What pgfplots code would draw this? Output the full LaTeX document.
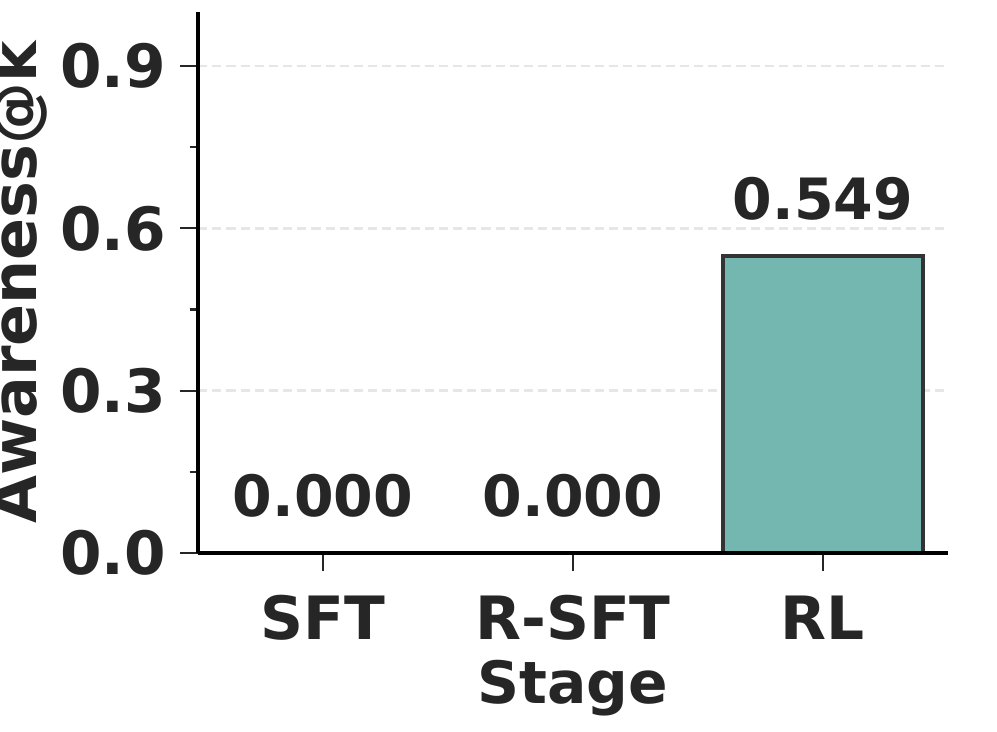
\documentclass[border=0pt]{standalone}
\usepackage{fontspec}
\setmainfont{DejaVu Sans}
\usepackage{pgfplots}
\pgfplotsset{compat=1.18}

\definecolor{barfill}{HTML}{74B6B0}
\definecolor{baredge}{HTML}{333333}
\definecolor{txt}{HTML}{262626}
\definecolor{gridc}{HTML}{E6E6E6}

\begin{document}
\begin{tikzpicture}
\begin{axis}[
    scale only axis,
    width=270pt, height=194.8pt,
    xmin=-0.5, xmax=2.5,
    ymin=0, ymax=1.0,
    set layers,
    axis on top,
    axis lines=left,
    axis line style={black, line width=1.4pt, -},
    clip=false,
    xtick={0,1,2},
    xticklabels={SFT, R-SFT, RL},
    ytick={0,0.3,0.6,0.9},
    minor ytick={0.15,0.45,0.75},
    yticklabel style={/pgf/number format/fixed, /pgf/number format/precision=1, /pgf/number format/fixed zerofill},
    /pgf/number format/assume math mode=true,
    tick style={txt, line width=0.8pt},
    major tick length=6.5pt,
    minor tick length=3pt,
    tick align=outside,
    ticklabel style={font=\fontsize{21.5}{24}\selectfont\bfseries, text=txt},
    xticklabel style={anchor=base, yshift=-24.7pt},
    yticklabel style={anchor=east, xshift=-1.5pt},
    ymajorgrids=true,
    major grid style={gridc, line width=0.9pt, dash pattern=on 3.3pt off 1.8pt, /pgfplots/on layer=axis background},
    xlabel={Stage},
    ylabel={Awareness@k},
    label style={font=\fontsize{21}{24}\selectfont\bfseries, text=txt},
    xlabel style={at={(axis description cs:0.5,-0.2773)}, anchor=base},
    ylabel style={at={(axis description cs:-0.2147,0.5)}, anchor=base, font=\fontsize{22.3}{24}\selectfont\bfseries},
    nodes near coords,
    nodes near coords style={font=\fontsize{20.5}{24}\selectfont\bfseries, text=txt,
        /pgf/number format/fixed, /pgf/number format/precision=3, /pgf/number format/fixed zerofill,
        anchor=base, yshift=13pt},
]
\addplot[ybar, bar width=0.8, fill=barfill, draw=baredge, line width=1.4pt]
    coordinates {(0,0.000) (1,0.000) (2,0.549)};
\end{axis}
\pgfresetboundingbox
\path[use as bounding box] (-71.28pt,-64.08pt) rectangle (287.64pt,199.08pt);
\end{tikzpicture}
\end{document}
